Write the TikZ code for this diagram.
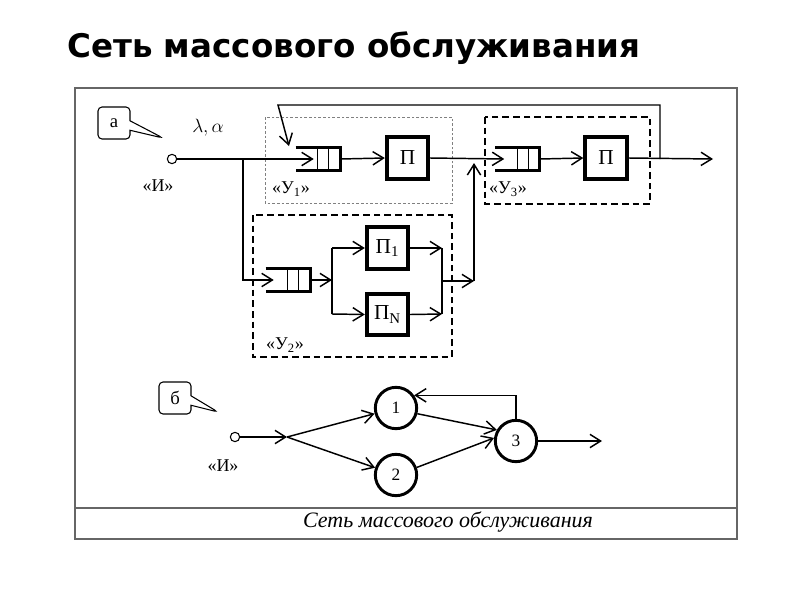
\documentclass[tikz,border=0pt]{standalone}
\usepackage{fontspec}
\setmainfont{Liberation Serif}
\newfontfamily\titlefont{DejaVu Sans}
\usetikzlibrary{arrows.meta,shapes.callouts,calc}
\newcommand\drawqueue[1]{%
  \draw[line width=2.4pt] (#1.north west) -- (#1.north east) -- (#1.south east) -- (#1.south west);
  \draw[line width=1pt] ($(#1.north west)+(22,0)$) -- ($(#1.south west)+(22,0)$);
  \draw[line width=1pt] ($(#1.north west)+(33,0)$) -- ($(#1.south west)+(33,0)$);
}
\begin{document}
\begin{tikzpicture}[x=0.75pt,y=-0.75pt,
  conn/.style={line width=1.1pt},
  arr/.style={conn,-{Straight Barb[length=8pt,width=10pt]}},
  srv/.style={draw,line width=3pt,minimum width=31pt,minimum height=31pt,inner sep=0pt,font=\fontsize{16}{16}\selectfont},
  qbox/.style={minimum width=33pt,minimum height=17pt,inner sep=0pt},
  src/.style={draw,circle,line width=0.8pt,minimum size=7pt,inner sep=0pt},
  cnode/.style={draw,circle,line width=2.2pt,minimum size=31pt,inner sep=0pt,font=\fontsize{13}{13}\selectfont},
  lbl/.style={inner sep=0pt,font=\fontsize{13.5}{13.5}\selectfont},
  callbox/.style={rectangle callout,draw,rounded corners=3pt,line width=0.8pt,minimum width=24pt,minimum height=24pt,inner sep=0pt,font=\fontsize{14}{14}\selectfont},
  dbox/.style={line width=0.9pt,dash pattern=on 5pt off 3pt},
  dotbox/.style={line width=0.5pt,gray,dash pattern=on 2pt off 1.5pt}
]
\useasboundingbox (0,0) rectangle (800,600);
\fill[white] (0,0) rectangle (800,600);

% title and frame
\node[anchor=west,inner sep=0pt,font=\titlefont\bfseries\fontsize{24.4}{24.4}\selectfont] (title) at (67,48) {Сеть массового обслуживания};
\draw[line width=1.2pt,black!60] (75,88) rectangle (737,539);
\draw[line width=1pt,black!60] (75,508) -- (737,508);
\node[font=\itshape\fontsize{16.5}{16.5}\selectfont] (cap) at (448,522) {Сеть массового обслуживания};

% boxes of part a
\draw[dotbox] (265,117) rectangle (452,203);
\draw[dbox] (485,117) rectangle (650,204);
\draw[dbox] (253,215) rectangle (452,357);

% part a
\coordinate (tipa) at (163,138);
\node[callbox,callout absolute pointer={(tipa)}] (ca) at (114,123) {а};
\node[inner sep=0pt,font=\fontsize{15}{15}\selectfont] (la) at (208,128) {$\lambda, \alpha$};
\node[src] (s1) at (172,159) {};
\node[lbl] (lI) at (158,186) {«И»};
\node[qbox] (q1) at (318,159) {};
\drawqueue{q1}
\node[srv] (p1) at (407.5,158) {П};
\node[qbox] (q3) at (517.5,159) {};
\drawqueue{q3}
\node[srv] (p3) at (606,158) {П};
\node[lbl] (lU1) at (291,189) {«У\textsubscript{1}»};
\node[lbl] (lU3) at (508,189) {«У\textsubscript{3}»};
\node[lbl] (lU2) at (285,345) {«У\textsubscript{2}»};
\coordinate (out1) at (713,159);
\coordinate (j1) at (243,159);
\coordinate (fb) at (660,159);
\coordinate (fbR) at (660,105);
\coordinate (fbL) at (278,105);
\coordinate (fbT) at (289,146);
\node[qbox] (q2) at (288,280) {};
\drawqueue{q2}
\coordinate (sp) at (332,280);
\coordinate (spT) at (332,248);
\coordinate (spB) at (332,314);
\node[srv] (pA) at (387.5,248) {П\textsubscript{1}};
\node[srv] (pN) at (387.5,314.5) {П\textsubscript{N}};
\coordinate (mgT) at (442,248);
\coordinate (mgB) at (442,314);
\coordinate (mg) at (442,281);
\coordinate (vj) at (474,281);
\coordinate (vjT) at (474,163);

\draw[arr] (s1) -- ($(q1.west)+(18,0)$);
\draw[arr] (q1.east) -- (p1.west);
\draw[arr] (p1.east) -- ($(q3.west)+(9,0)$);
\draw[arr] (q3.east) -- (p3.west);
\draw[arr] (p3.east) -- (out1);
\draw[arr] (fb) -- (fbR) -- (fbL) -- (fbT);
\draw[arr] (j1) |- ($(q2.west)+(8,0)$);
\draw[arr] (q2.east) -- (sp);
\draw[conn] (spT) -- (spB);
\draw[arr] (spT) -- (pA.west);
\draw[arr] (spB) -- (pN.west);
\draw[arr] (pA.east) -- (mgT);
\draw[arr] (pN.east) -- (mgB);
\draw[conn] (mgT) -- (mgB);
\draw[arr] (mg) -- (vj);
\draw[arr] (vj) -- (vjT);

% part b
\coordinate (tipb) at (218,412);
\node[callbox,callout absolute pointer={(tipb)}] (cb) at (175,398) {б};
\node[src] (s2) at (235,437) {};
\node[lbl] (lI2) at (223,466) {«И»};
\coordinate (sp2) at (287,437);
\node[cnode] (n1) at (396,408) {1};
\node[cnode] (n2) at (396,475) {2};
\node[cnode] (n3) at (516,441) {3};
\coordinate (out2) at (602,441);
\draw[arr] (s2) -- (sp2);
\draw[arr] (sp2) -- (n1);
\draw[arr] (sp2) -- (n2);
\draw[arr] (n1.-15) -- (n3.150);
\draw[arr] (n2.20) -- (n3.172);
\draw[arr] (n3.north) |- (n1.35);
\draw[arr] (n3.east) -- (out2);
\end{tikzpicture}
\end{document}
